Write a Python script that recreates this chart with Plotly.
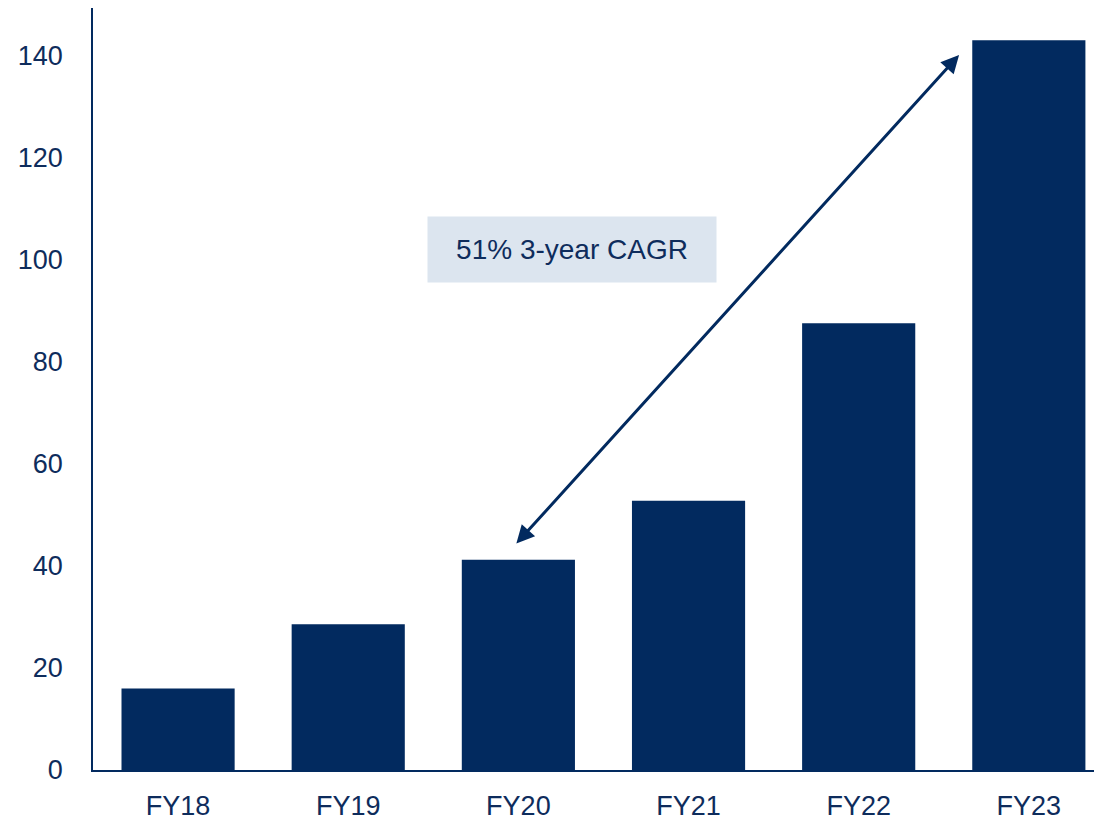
import plotly.graph_objects as go

categories = ["FY18", "FY19", "FY20", "FY21", "FY22", "FY23"]
values = [16.0, 28.6, 41.2, 52.8, 87.6, 143.1]
y_ticks = [0, 20, 40, 60, 80, 100, 120, 140]
cagr_label = "51% 3-year CAGR"

navy = "#022A5F"
text_col = "#0E2C5C"
font_family = "Liberation Sans, Arial, sans-serif"

fig = go.Figure()
fig.add_trace(go.Bar(x=list(range(len(categories))), y=values, marker=dict(color=navy, line=dict(width=0)),
                     hoverinfo="skip"))

# double-headed arrow from FY20 to FY23
fig.add_annotation(x=4.59, y=140.2, ax=1.98, ay=44.1, xref="x", yref="y", axref="x", ayref="y",
                   showarrow=True, arrowhead=2, startarrowhead=2, arrowside="end+start",
                   arrowwidth=3, arrowsize=1.2, startarrowsize=1.2, arrowcolor=navy, text="")

fig.add_annotation(x=2.318, y=102, xref="x", yref="y", text=cagr_label, showarrow=False,
                   bgcolor="#DCE5EF", width=288, height=65, borderpad=0,
                   font=dict(family=font_family, size=28, color=text_col))

fig.update_layout(
    width=1094, height=814,
    margin=dict(l=85, r=0, t=0, b=52),
    plot_bgcolor="white", paper_bgcolor="white",
    bargap=0.335, showlegend=False,
    font=dict(family=font_family, size=27, color=text_col),
)
fig.update_xaxes(range=[-0.5, 5.43], tickmode="array", tickvals=list(range(len(categories))),
                 ticktext=categories, showgrid=False, zeroline=False, showline=True,
                 linecolor=navy, linewidth=1.5, ticks="", ticklabelstandoff=11, automargin=False)
fig.update_yaxes(range=[0, 149.4], tickmode="array", tickvals=y_ticks, showgrid=False, zeroline=False,
                 showline=True, linecolor=navy, linewidth=1.5, ticks="", ticklabelstandoff=23,
                 automargin=False)

fig.write_html("out.html")
